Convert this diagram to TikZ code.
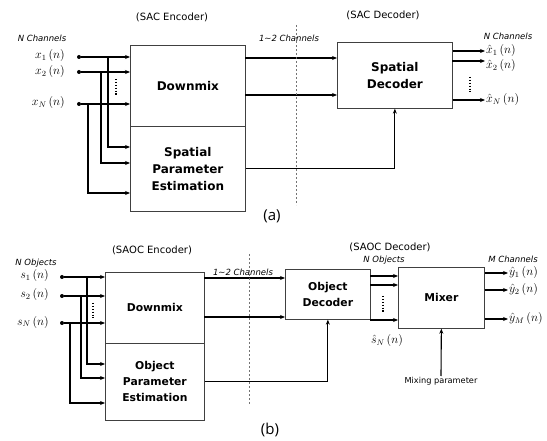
\documentclass[tikz,border=0pt]{standalone}
\usepackage{fontspec}
\setmainfont{DejaVu Sans}[ItalicFont={DejaVu Sans Oblique},BoldFont={DejaVu Sans Bold},BoldItalicFont={DejaVu Sans Bold Oblique}]
\newfontfamily\lightf{Open Sans}
\usetikzlibrary{arrows.meta}
\begin{document}
\begin{tikzpicture}[x=1pt,y=-1pt,
 blk/.style={draw=black!75, line width=0.7pt, inner sep=0pt, align=center, font=\fontsize{12}{17}\selectfont\bfseries},
 blkb/.style={blk, font=\fontsize{10.8}{16}\selectfont\bfseries},
 arr/.style={line width=1.1pt, -{Stealth[length=5pt,width=4pt]}},
 dotc/.style={circle, fill, inner sep=0pt, minimum size=4pt},
 captxt/.style={font=\fontsize{10}{12}\selectfont},
 ital/.style={font=\fontsize{8.5}{10}\selectfont\itshape, inner sep=1pt},
 sig/.style={font=\fontsize{12}{14}\selectfont, inner sep=1pt},
 vd/.style={line width=1.3pt, dash pattern=on 1.3pt off 1.6pt},
 sepline/.style={draw=black!55, line width=0.5pt, dash pattern=on 2pt off 2pt}]
\useasboundingbox (0,0) rectangle (547,441);

% ================= (a) =================
\node[blk, minimum width=115, minimum height=81, anchor=north west] (dm) at (130,45) {Downmix};
\node[blk, minimum width=115, minimum height=85, anchor=north west] (spe) at (130,126) {Spatial\\Parameter\\Estimation};
\node[blk, minimum width=115, minimum height=66, anchor=north west] (sd) at (337,42) {Spatial\\Decoder};

\node[captxt] (enca) at (172,17) {(SAC Encoder)};
\node[captxt] (deca) at (383,15) {(SAC Decoder)};
\node[ital] (nca) at (42,38) {N Channels};
\node[ital] (cha) at (289,38) {1\textasciitilde2 Channels};
\node[ital] (ncb) at (508,36) {N Channels};
\node[font=\lightf\fontsize{15}{18}\selectfont] (la) at (272,216) {(a)};

% inputs
\node[dotc] (i1) at (79,57) {};
\node[dotc] (i2) at (79,72) {};
\node[dotc] (i3) at (79,104) {};
\node[sig, anchor=east] (x1) at (66,56) {$x_1\,(n)$};
\node[sig, anchor=east] (x2) at (66,72) {$x_2\,(n)$};
\node[sig, anchor=east] (x3) at (66,103) {$x_N\,(n)$};
\draw[arr] (i1) -- (i1 -| dm.west);
\draw[arr] (i2) -- (i2 -| dm.west);
\draw[arr] (i3) -- (i3 -| dm.west);
\coordinate (j1) at (108,57); \coordinate (k1) at (130,147);
\coordinate (j2) at (101,72); \coordinate (k2) at (130,163);
\coordinate (j3) at (88,104); \coordinate (k3) at (130,193);
\draw[arr] (j1) |- (k1);
\draw[arr] (j2) |- (k2);
\draw[arr] (j3) |- (k3);
\draw[vd] (116,79) -- (116,96);

% encoder -> decoder
\coordinate (o1) at (245,58);
\coordinate (o2) at (245,95);
\draw[arr] (o1) -- (o1 -| sd.west);
\draw[arr] (o2) -- (o2 -| sd.west);
\draw[arr] (spe.east) -| (sd.south);
\draw[sepline] (296,25) -- (296,205);

% outputs
\node[sig, anchor=west] (xh1) at (485,51) {$\hat{x}_1\,(n)$};
\node[sig, anchor=west] (xh2) at (485,66) {$\hat{x}_2\,(n)$};
\node[sig, anchor=west] (xh3) at (485,100) {$\hat{x}_N\,(n)$};
\coordinate (oo2) at (452,61);
\draw[arr] (sd.east |- xh1) -- (xh1.west);
\draw[arr] (oo2) -- (oo2 -| xh2.west);
\draw[arr] (sd.east |- xh3) -- (xh3.west);
\draw[vd] (470,77) -- (470,92);

% ================= (b) =================
\node[blkb, minimum width=99, minimum height=71, anchor=north west] (dm2) at (105,272) {Downmix};
\node[blkb, minimum width=99, minimum height=77, anchor=north west] (ope) at (105,343) {Object\\Parameter\\Estimation};
\node[blkb, minimum width=85, minimum height=50, anchor=north west] (od) at (285,269) {Object\\Decoder};
\node[blkb, minimum width=86, minimum height=61, anchor=north west] (mx) at (398,267) {Mixer};

\node[captxt] (encb) at (152,250) {(SAOC Encoder)};
\node[captxt] (decb) at (390,247) {(SAOC Decoder)};
\node[ital] (nob) at (36,263) {N Objects};
\node[ital] (chb) at (243,272) {1\textasciitilde2 Channels};
\node[ital] (noc) at (384,260) {N Objects};
\node[ital] (mcb) at (513,259) {M Channels};
\node[font=\lightf\fontsize{15}{18}\selectfont] (lb) at (270,430) {(b)};

% inputs
\node[dotc] (s1d) at (62,277) {};
\node[dotc] (s2d) at (62,296) {};
\node[dotc] (s3d) at (62,323) {};
\node[sig, anchor=east] (s1) at (50,276) {$s_1\,(n)$};
\node[sig, anchor=east] (s2) at (50,295) {$s_2\,(n)$};
\node[sig, anchor=east] (s3) at (50,322) {$s_N\,(n)$};
\draw[arr] (s1d) -- (s1d -| dm2.west);
\draw[arr] (s2d) -- (s2d -| dm2.west);
\draw[arr] (s3d) -- (s3d -| dm2.west);
\coordinate (q1) at (87,277); \coordinate (r1) at (105,364);
\coordinate (q2) at (81,296); \coordinate (r2) at (105,378);
\coordinate (q3) at (70,323); \coordinate (r3) at (105,403);
\draw[arr] (q1) |- (r1);
\draw[arr] (q2) |- (r2);
\draw[arr] (q3) |- (r3);
\draw[vd] (93,303) -- (93,318);

% encoder -> object decoder
\coordinate (p1) at (204,278);
\coordinate (p2) at (204,317);
\draw[arr] (p1) -- (p1 -| od.west);
\draw[arr] (p2) -- (p2 -| od.west);
\draw[arr] (ope.east) -| (od.south);
\draw[sepline] (249,254) -- (249,405);

% object decoder -> mixer
\coordinate (u1) at (370,276);
\coordinate (u2) at (370,285);
\coordinate (u3) at (370,320);
\draw[arr] (u1) -- (u1 -| mx.west);
\draw[arr] (u2) -- (u2 -| mx.west);
\draw[arr] (u3) -- (u3 -| mx.west);
\draw[vd] (383,296) -- (383,312);
\node[sig] (shn) at (387,341) {$\hat{s}_N\,(n)$};

% mixing parameter
\node[font=\fontsize{8.2}{10}\selectfont, anchor=north, inner sep=1pt] (mp) at (441,376) {Mixing parameter};
\draw[arr] (mp.north) -- (mx.south);

% outputs
\node[sig, anchor=west] (y1) at (508,273) {$\hat{y}_1\,(n)$};
\node[sig, anchor=west] (y2) at (508,290) {$\hat{y}_2\,(n)$};
\node[sig, anchor=west] (y3) at (508,319) {$\hat{y}_M\,(n)$};
\draw[arr] (mx.east |- y1) -- (y1.west);
\draw[arr] (mx.east |- y2) -- (y2.west);
\draw[arr] (mx.east |- y3) -- (y3.west);
\end{tikzpicture}
\end{document}
